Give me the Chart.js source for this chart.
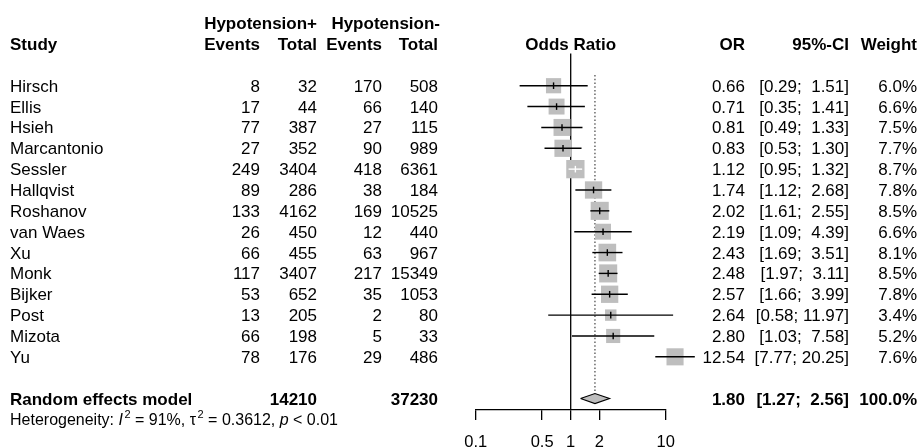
<!DOCTYPE html>
<html><head><meta charset="utf-8">
<script src="https://cdn.jsdelivr.net/npm/chart.js@4.4.0/dist/chart.umd.min.js"></script>
<style>html,body{margin:0;padding:0;background:#fff;}#wrap{width:922px;height:448px;position:relative;}</style>
</head><body><div id="wrap"><canvas id="c" width="922" height="448"></canvas></div>
<script>
// ---- data ----
const studies = ['Hirsch','Ellis','Hsieh','Marcantonio','Sessler','Hallqvist','Roshanov','van Waes','Xu','Monk','Bijker','Post','Mizota','Yu'];
const eventsPos = [8,17,77,27,249,89,133,26,66,117,53,13,66,78];
const totalPos = [32,44,387,352,3404,286,4162,450,455,3407,652,205,198,176];
const eventsNeg = [170,66,27,90,418,38,169,12,63,217,35,2,5,29];
const totalNeg = [508,140,115,989,6361,184,10525,440,967,15349,1053,80,33,486];
const oddsRatio = [0.66,0.71,0.81,0.83,1.12,1.74,2.02,2.19,2.43,2.48,2.57,2.64,2.80,12.54];
const ciLower = [0.29,0.35,0.49,0.53,0.95,1.12,1.61,1.09,1.69,1.97,1.66,0.58,1.03,7.77];
const ciUpper = [1.51,1.41,1.33,1.30,1.32,2.68,2.55,4.39,3.51,3.11,3.99,11.97,7.58,20.25];
const weights = [6.0,6.6,7.5,7.7,8.7,7.8,8.5,6.6,8.1,8.5,7.8,3.4,5.2,7.6];
const pooledLabel = 'Random effects model';
const pooledTotals = [14210, 37230];
const pooledEstimate = [1.80, 1.27, 2.56];   // OR, lower, upper
const pooledWeight = 100.0;
const heterogeneity = {I2: '91%', tau2: '0.3612', p: '< 0.01'};
const xTickValues = [0.1, 0.5, 1, 2, 10];

// ---- layout constants ----
const FONT = '"Liberation Sans", Arial, sans-serif';
const GREY = '#bebebe';
const POOLED_ROW = studies.length + 2;
const BOX_K = 6.2; // square side (px) per sqrt(weight)
const rowOf = i => i + 1;

function ciInside(ch, i) {
  const xs = ch.scales.x;
  if (!xs) return false;
  const w = xs.getPixelForValue(ciUpper[i]) - xs.getPixelForValue(ciLower[i]);
  return w < BOX_K * Math.sqrt(weights[i]);
}

const datasets = [];
// reference lines
datasets.push({type:'line', data:[{x:1,y:-0.55},{x:1,y:16.55}], borderColor:'#000', borderWidth:1.3, pointRadius:0, clip:false, order:10});
datasets.push({type:'line', data:[{x:pooledEstimate[0],y:0.49},{x:pooledEstimate[0],y:POOLED_ROW-0.3}], borderColor:'#444', borderWidth:1.2, borderDash:[1.5,2.2], pointRadius:0, clip:false, order:9});
// squares
datasets.push({type:'line', showLine:false, data: oddsRatio.map((v,i)=>({x:v,y:rowOf(i)})),
  pointStyle:'rect', pointRadius: weights.map(w => BOX_K*Math.sqrt(w)/Math.SQRT2), pointBackgroundColor:GREY,
  pointBorderWidth:0, pointBorderColor:GREY, clip:false, order:5});
// CI lines
studies.forEach((s,i)=>{
  datasets.push({type:'line', data:[{x:ciLower[i],y:rowOf(i)},{x:ciUpper[i],y:rowOf(i)}],
    borderColor: ctx => ciInside(ctx.chart,i) ? '#fff' : '#000', borderWidth:1.4, pointRadius:0, clip:false, order:3});
});
// estimate marks
datasets.push({type:'line', showLine:false, data: oddsRatio.map((v,i)=>({x:v,y:rowOf(i)})),
  pointStyle:'line', pointRotation:90, pointRadius:3.3, pointBorderWidth:1.4,
  pointBorderColor: ctx => ciInside(ctx.chart, ctx.dataIndex) ? '#fff' : '#000', clip:false, order:1});
// pooled diamond
const dh = 0.24;
datasets.push({type:'line', data:[
  {x:pooledEstimate[1],y:POOLED_ROW},{x:pooledEstimate[0],y:POOLED_ROW-dh},{x:pooledEstimate[2],y:POOLED_ROW},
  {x:pooledEstimate[0],y:POOLED_ROW+dh},{x:pooledEstimate[1],y:POOLED_ROW}],
  fill:'shape', backgroundColor:GREY, borderColor:'#000', borderWidth:1.2, tension:0, pointRadius:0, clip:false, order:2});

const f2 = v => v.toFixed(2);
const tablePlugin = {
  id:'table',
  afterDraw(chart){
    const ctx = chart.ctx, ys = chart.scales.y, xs = chart.scales.x;
    const Y = r => ys.getPixelForValue(r) + 6;
    function t(str, x, row, align, bold, size){
      ctx.font = (bold?'bold ':'') + (size||17) + 'px ' + FONT;
      ctx.textAlign = align || 'left';
      ctx.textBaseline = 'alphabetic';
      ctx.fillStyle = '#000';
      ctx.fillText(str, x, Y(row));
    }
    ctx.save();
    // headers
    t('Hypotension+', 317, -2, 'right', true);
    t('Hypotension-', 440, -2, 'right', true);
    t('Study', 10, -1, 'left', true);
    t('Events', 260, -1, 'right', true);
    t('Total', 317, -1, 'right', true);
    t('Events', 382, -1, 'right', true);
    t('Total', 438, -1, 'right', true);
    t('Odds Ratio', xs.getPixelForValue(1), -1, 'center', true);
    t('OR', 745, -1, 'right', true);
    t('95%-CI', 849, -1, 'right', true);
    t('Weight', 917, -1, 'right', true);
    function drawCI(lo, hi, row, bold){
      const a = '[' + f2(lo) + ';';
      const b = (f2(hi).length < 5 ? '  ' : ' ') + f2(hi) + ']';
      ctx.font = (bold?'bold ':'') + '17px ' + FONT;
      const wb = ctx.measureText(b).width;
      t(b, 849, row, 'right', bold);
      t(a, 849 - wb, row, 'right', bold);
    }
    studies.forEach((s,i)=>{
      const r = rowOf(i);
      t(s, 10, r, 'left');
      t(String(eventsPos[i]), 260, r, 'right');
      t(String(totalPos[i]), 317, r, 'right');
      t(String(eventsNeg[i]), 382, r, 'right');
      t(String(totalNeg[i]), 438, r, 'right');
      t(f2(oddsRatio[i]), 745, r, 'right');
      drawCI(ciLower[i], ciUpper[i], r, false);
      t(weights[i].toFixed(1) + '%', 917, r, 'right');
    });
    // pooled
    t(pooledLabel, 10, POOLED_ROW, 'left', true);
    t(String(pooledTotals[0]), 317, POOLED_ROW, 'right', true);
    t(String(pooledTotals[1]), 438, POOLED_ROW, 'right', true);
    t(f2(pooledEstimate[0]), 745, POOLED_ROW, 'right', true);
    drawCI(pooledEstimate[1], pooledEstimate[2], POOLED_ROW, true);
    t(pooledWeight.toFixed(1) + '%', 917, POOLED_ROW, 'right', true);
    // heterogeneity (flowing text with superscripts)
    const base = Y(POOLED_ROW + 1);
    const parts = [
      ['Heterogeneity: ', '', 16, 0, 0],
      ['I', 'italic ', 16, 0, 1.5],
      ['2', '', 11, 7, 0],
      [' = ' + heterogeneity.I2 + ', ', '', 16, 0, 0],
      ['\u03c4', '', 16, 0, 1.5],
      ['2', '', 11, 7, 0],
      [' = ' + heterogeneity.tau2 + ', ', '', 16, 0, 0],
      ['p', 'italic ', 16, 0, 0],
      [' ' + heterogeneity.p, '', 16, 0, 0]
    ];
    ctx.textAlign = 'left';
    let x = 10;
    parts.forEach(([s,st,sz,up,gap])=>{
      ctx.font = st + sz + 'px ' + FONT;
      ctx.fillText(s, x, base - up);
      x += ctx.measureText(s).width + gap;
    });
    ctx.restore();
  }
};

new Chart(document.getElementById('c'), {
  type:'line',
  data:{datasets},
  options:{
    responsive:false, animation:false, events:[], devicePixelRatio:1,
    layout:{autoPadding:false, padding:{left:475.7, right:256.3, top:2.3, bottom:0}},
    plugins:{legend:{display:false}, tooltip:{enabled:false}},
    scales:{
      x:{type:'logarithmic', min:0.1, max:10, position:'bottom',
        afterBuildTicks: sc => { sc.ticks = xTickValues.map(v=>({value:v})); },
        afterFit: sc => { sc.height = 38; },
        grid:{display:true, drawOnChartArea:false, drawTicks:true, tickLength:10, color:'#000', lineWidth:1.3},
        border:{display:true, color:'#000', width:1.3},
        ticks:{autoSkip:false, maxRotation:0, minRotation:0, padding:12.5, color:'#000',
          font:{family:FONT, size:16.5}, callback: v => String(v)}
      },
      y:{type:'linear', reverse:true, min:-3, max:16.55, display:false}
    }
  },
  plugins:[tablePlugin]
});
</script></body></html>
